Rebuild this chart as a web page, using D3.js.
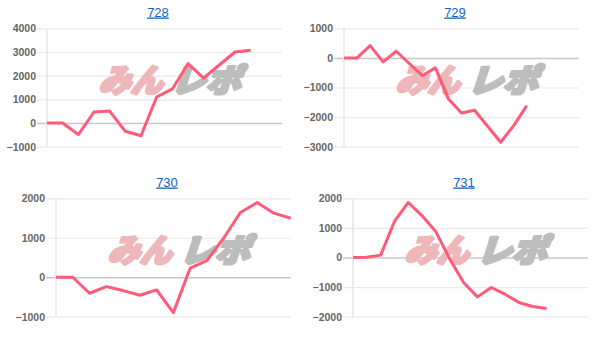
<!DOCTYPE html>
<html><head><meta charset="utf-8">
<script src="https://cdn.jsdelivr.net/npm/d3@7"></script>
<style>
html,body{margin:0;padding:0;background:#fff;}
svg{display:block;}
</style></head>
<body>
<svg id="chart" width="606" height="343"></svg>
<script>
// ---- data ----
const titles = ["728", "729", "730", "731"];
const labels728 = ["0","1","2","3","4","5","6","7","8","9","10","11","12","13","14","15"];
const labels729 = ["0","1","2","3","4","5","6","7","8","9","10","11","12","13","14","15","16","17","18"];
const labels730 = ["0","1","2","3","4","5","6","7","8","9","10","11","12","13","14"];
const labels731 = ["0","1","2","3","4","5","6","7","8","9","10","11","12","13","14","15","16","17"];
const values728 = [0, 0, -490, 465, 505, -350, -535, 1100, 1440, 2505, 1900, 2450, 3000, 3070];
const values729 = [0, 0, 415, -135, 225, -190, -597, -338, -1386, -1859, -1769, -2310, -2851, -2287, -1611];
const values730 = [0, 0, -406, -237, -338, -456, -321, -896, 228, 423, 989, 1640, 1893, 1623, 1496];
const values731 = [0, 10, 80, 1217, 1859, 1408, 868, -50, -845, -1330, -1014, -1239, -1521, -1656, -1724];
const ticks728 = [-1000, 0, 1000, 2000, 3000, 4000];
const ticks729 = [-3000, -2000, -1000, 0, 1000];
const ticks730 = [-1000, 0, 1000, 2000];
const ticks731 = [-2000, -1000, 0, 1000, 2000];

// ---- layout ----
const panels = [
  {title: titles[0], labels: labels728, values: values728, ticks: ticks728, l: 47, r: 282, t: 28.3, b: 146.7, tx: 158, ty: 16.5},
  {title: titles[1], labels: labels729, values: values729, ticks: ticks729, l: 344, r: 579, t: 28.3, b: 146.7, tx: 455, ty: 16.5},
  {title: titles[2], labels: labels730, values: values730, ticks: ticks730, l: 56, r: 290.7, t: 198.3, b: 316.7, tx: 167, ty: 186.5},
  {title: titles[3], labels: labels731, values: values731, ticks: ticks731, l: 353, r: 588, t: 198.3, b: 316.7, tx: 464, ty: 186.5}
];

const svg = d3.select("#chart");

panels.forEach(p => {
  const g = svg.append("g");
  const x = d3.scalePoint().domain(p.labels).range([p.l, p.r]);
  const y = d3.scaleLinear().domain(d3.extent(p.ticks)).range([p.b, p.t]);

  // title link
  g.append("text")
    .attr("x", p.tx).attr("y", p.ty)
    .attr("text-anchor", "middle")
    .attr("font-family", "Liberation Sans, Arial, sans-serif")
    .attr("font-size", 13)
    .attr("fill", "#1565c0")
    .attr("text-decoration", "underline")
    .text(p.title);

  // grid + y axis
  const axis = d3.axisLeft(y).tickValues(p.ticks).tickSize(-(p.r - p.l)).tickPadding(12).tickFormat(d3.format("d"));
  const ag = g.append("g").attr("transform", `translate(${p.l},0)`).call(axis);
  ag.select(".domain").remove();
  ag.selectAll(".tick line")
    .attr("x1", -10)
    .attr("stroke", d => d === 0 ? "#c8c8c8" : "#e9e9e9")
    .attr("stroke-width", d => d === 0 ? 1.5 : 1.2);
  ag.selectAll(".tick text")
    .attr("x", -11)
    .attr("font-family", "Liberation Sans, Arial, sans-serif")
    .attr("font-size", 10.5)
    .attr("font-weight", "bold")
    .attr("fill", "#666");
  g.append("line")
    .attr("x1", p.l).attr("x2", p.l).attr("y1", p.t).attr("y2", p.b)
    .attr("stroke", "#e6e6e6").attr("stroke-width", 1.5);

  // watermark
  const cx = (p.l + p.r) / 2 + 8;
  const cy = p.t + 52;
  const wm = g.append("g").attr("transform", `translate(${cx},${cy}) skewX(-18)`);
  wm.append("text")
    .attr("x", -70).attr("y", 12)
    .attr("font-family", "Noto Sans CJK JP")
    .attr("font-weight", 900)
    .attr("font-size", 32)
    .attr("fill", "#eeb8bb")
    .attr("stroke", "#eeb8bb").attr("stroke-width", 3).attr("stroke-linejoin", "round")
    .attr("textLength", 64).attr("lengthAdjust", "spacingAndGlyphs")
    .text("みん");
  wm.append("text")
    .attr("x", 2).attr("y", 12)
    .attr("font-family", "Noto Sans CJK JP")
    .attr("font-weight", 900)
    .attr("font-size", 32)
    .attr("fill", "#bdbdbd")
    .attr("stroke", "#bdbdbd").attr("stroke-width", 3).attr("stroke-linejoin", "round")
    .attr("textLength", 70).attr("lengthAdjust", "spacingAndGlyphs")
    .text("レポ");

  // line
  const line = d3.line()
    .x((d, i) => x(p.labels[i]))
    .y(d => y(d));
  g.append("path")
    .datum(p.values)
    .attr("fill", "none")
    .attr("stroke", "#ff5a78")
    .attr("stroke-width", 3)
    .attr("stroke-linejoin", "round")
    .attr("d", line);
});
</script>
</body></html>
